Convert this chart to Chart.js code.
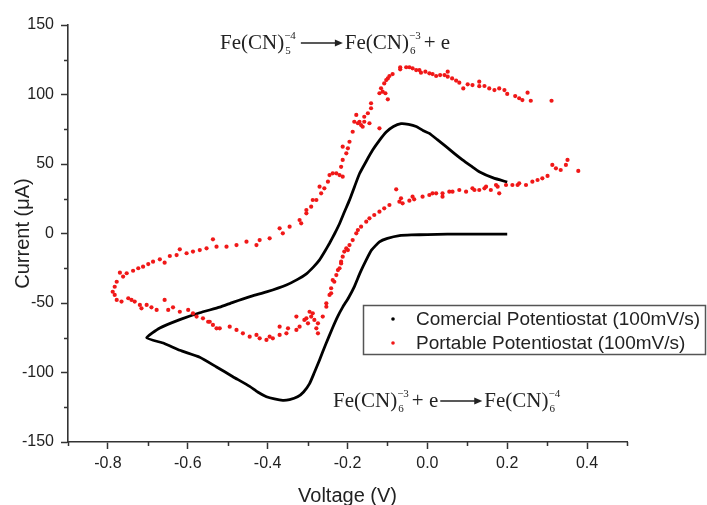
<!DOCTYPE html>
<html>
<head>
<meta charset="utf-8">
<script src="https://cdn.jsdelivr.net/npm/chart.js@4.4.1/dist/chart.umd.min.js"></script>
<style>
  body { margin: 0; background: #fff; }
  #wrap { width: 707px; height: 505px; }
</style>
</head>
<body>
<div id="wrap"><canvas id="cv" width="707" height="505"></canvas></div>
<script>
// tick values
const xMajor = [-0.8, -0.6, -0.4, -0.2, 0.0, 0.2, 0.4];
const xMinor = [-0.9, -0.7, -0.5, -0.3, -0.1, 0.1, 0.3, 0.5];
const yMajor = [-150, -100, -50, 0, 50, 100, 150];
const yMinor = [-125, -75, -25, 25, 75, 125];

const seriesLabels = ['Comercial Potentiostat (100mV/s)', 'Portable Potentiostat (100mV/s)'];

// commercial potentiostat, [voltage V, current uA], in scan order
const commercial = [
  [0.20, -0.5], [0.15, -0.5], [0.10, -0.5], [0.05, -0.5], [0.0, -0.8], [-0.04, -1], [-0.07, -1.5],
  [-0.10, -3.5], [-0.12, -6], [-0.14, -12], [-0.153, -19], [-0.168, -28], [-0.1825, -38],
  [-0.197, -46], [-0.212, -53], [-0.225, -60], [-0.2375, -68], [-0.255, -80], [-0.27, -91],
  [-0.283, -100], [-0.295, -108], [-0.31, -114], [-0.325, -117.5], [-0.345, -119.5], [-0.362, -120],
  [-0.383, -119], [-0.403, -117.4], [-0.425, -114], [-0.445, -110], [-0.487, -103], [-0.528, -96],
  [-0.57, -89], [-0.62, -84], [-0.66, -79], [-0.703, -75],
  [-0.67, -68], [-0.62, -62], [-0.57, -57], [-0.52, -53], [-0.487, -49.5], [-0.44, -45],
  [-0.403, -42], [-0.353, -37], [-0.325, -33], [-0.303, -29], [-0.285, -24], [-0.27, -19],
  [-0.257, -13], [-0.245, -7], [-0.232, 0], [-0.22, 7], [-0.207, 16], [-0.195, 24], [-0.182, 34],
  [-0.17, 43], [-0.153, 52], [-0.137, 60], [-0.12, 67], [-0.103, 73], [-0.085, 77], [-0.066, 79],
  [-0.047, 78.5], [-0.028, 77], [-0.01, 74], [0.005, 72], [0.025, 67.5], [0.047, 62.5],
  [0.068, 57.5], [0.088, 53], [0.11, 48.5], [0.13, 44.5], [0.165, 40], [0.20, 37]
];

// portable potentiostat, [voltage V, current uA]
const portable = [
  [0.311, 95.5], [0.259, 95.5], [0.251, 101.3], [0.238, 96], [0.23, 97.3], [0.22, 98.9], [0.20, 100.4],
  [0.193, 103.2], [0.18, 104.4], [0.168, 103.2], [0.155, 104.4], [0.143, 106.1], [0.13, 109.2],
  [0.13, 106], [0.113, 106.8], [0.101, 107.3], [0.09, 104.4], [0.08, 108.5], [0.072, 110],
  [0.062, 111.6], [0.051, 112.8], [0.051, 116.4], [0.043, 114], [0.032, 114], [0.022, 113.3],
  [0.013, 114.7], [0.005, 115.2], [-0.005, 116.4], [-0.016, 115.7], [-0.02, 117.6], [-0.028, 117.6],
  [-0.037, 118.8], [-0.045, 119.6], [-0.053, 119.6], [-0.068, 118.1], [-0.068, 119.6], [-0.087, 114.7],
  [-0.095, 113.3], [-0.099, 111.6], [-0.103, 110.4], [-0.108, 108], [-0.112, 102], [-0.116, 104.5],
  [-0.12, 100.9], [-0.105, 100.9], [-0.099, 96.5], [-0.141, 93.7], [-0.141, 90.1], [-0.149, 86.5],
  [-0.158, 84], [-0.178, 85.3], [-0.17, 80.4], [-0.166, 78], [-0.174, 79.3], [-0.162, 76.8],
  [-0.183, 80.4], [-0.158, 80.4], [-0.145, 79.3], [-0.12, 75.7], [-0.187, 73.2], [-0.195, 66],
  [-0.199, 61.3], [-0.203, 57.7], [-0.212, 52.9], [-0.216, 48], [-0.212, 62.5], [-0.22, 42],
  [-0.228, 43.3], [-0.237, 43.3], [-0.245, 42], [-0.212, 40.9], [-0.249, 37.3], [-0.258, 32.5],
  [-0.266, 28.9], [-0.27, 33.7], [-0.278, 24.1], [-0.287, 24.1], [-0.291, 19.3], [-0.303, 14.5],
  [-0.303, 16.9], [-0.316, 7.3], [-0.32, 9.7], [-0.345, 4.9], [-0.37, 3.7], [-0.362, 0.1],
  [-0.395, -3.5], [-0.42, -4.7], [-0.428, -8.3], [-0.453, -5.9], [-0.478, -8.3], [-0.503, -9.5],
  [-0.528, -9.5], [-0.537, -4.2], [-0.553, -10.7], [-0.57, -11.9], [-0.587, -13], [-0.603, -14.2],
  [-0.62, -11.4], [-0.628, -15.5], [-0.645, -16.2], [-0.658, -21], [-0.67, -18.6], [-0.687, -20.3],
  [-0.699, -22], [-0.712, -23.9], [-0.724, -25], [-0.737, -26.8], [-0.753, -28.6], [-0.762, -31],
  [-0.77, -28.2], [-0.778, -34.7], [-0.783, -38.3], [-0.788, -41.9], [-0.783, -44.2], [-0.778, -47.8],
  [-0.766, -49], [-0.749, -46.6], [-0.741, -47.8], [-0.733, -49], [-0.72, -51.4], [-0.716, -53.8],
  [-0.703, -51.4], [-0.691, -53.1], [-0.678, -55], [-0.658, -47.8], [-0.649, -55], [-0.637, -53.1],
  [-0.62, -56.3], [-0.599, -55], [-0.587, -57.4], [-0.578, -59.8], [-0.562, -61], [-0.549, -63.5],
  [-0.537, -65.8], [-0.528, -68.2], [-0.545, -63.5], [-0.52, -68.2], [-0.495, -67], [-0.478, -69.4],
  [-0.462, -71.8], [-0.445, -74.2], [-0.428, -73], [-0.42, -75.4], [-0.403, -76.6], [-0.395, -74.2],
  [-0.387, -75.4], [-0.37, -73], [-0.37, -67], [-0.353, -71.8], [-0.349, -68.2], [-0.328, -69.4],
  [-0.328, -59.8], [-0.32, -67], [-0.308, -62.2], [-0.291, -59.8], [-0.287, -57.4], [-0.299, -64.6],
  [-0.283, -62.2], [-0.278, -68.2], [-0.274, -64.6], [-0.303, -61], [-0.295, -56.3], [-0.274, -71.8],
  [-0.262, -59.8], [-0.253, -50.2], [-0.253, -52.7], [-0.245, -44.2], [-0.241, -39.4], [-0.241, -43],
  [-0.233, -34.7], [-0.237, -33.5], [-0.228, -29.9], [-0.224, -26.3], [-0.22, -25], [-0.216, -20.3],
  [-0.216, -21.5], [-0.212, -16.7], [-0.208, -13], [-0.203, -10.7], [-0.199, -11.9], [-0.195, -8.3],
  [-0.187, -4.7], [-0.178, 0.1], [-0.174, 2.5], [-0.166, 4.9], [-0.153, 8.5], [-0.145, 10.9],
  [-0.133, 13.3], [-0.12, 15.7], [-0.108, 18.1], [-0.095, 20.5], [-0.078, 31.8], [-0.07, 22.9],
  [-0.062, 21.7], [-0.066, 25.3], [-0.045, 23.6], [-0.033, 24.6], [-0.037, 26.5], [-0.012, 26.5],
  [0.005, 27.7], [0.013, 28.9], [0.022, 28.9], [0.038, 28.9], [0.038, 26.5], [0.055, 30.1],
  [0.063, 30.1], [0.08, 31.3], [0.097, 30.1], [0.113, 32.5], [0.118, 31.3], [0.13, 31.3],
  [0.143, 32.5], [0.147, 33.7], [0.159, 31.3], [0.172, 34.9], [0.18, 28.9], [0.176, 33.7],
  [0.197, 34.9], [0.213, 34.9], [0.226, 34.9], [0.23, 36.1], [0.247, 34.9], [0.263, 37.3],
  [0.276, 38.5], [0.288, 39.7], [0.301, 41.4], [0.313, 49.3], [0.322, 46.9], [0.334, 45.7],
  [0.347, 49.3], [0.351, 52.9], [0.378, 45]
];

const SANS = '"Liberation Sans", Arial, sans-serif';
const SERIF = '"Liberation Serif", "Times New Roman", serif';

// draws Fe(CN) style formulas with stacked sub/superscripts
function drawFormula(ctx, x, y, parts) {
  ctx.fillStyle = '#222';
  ctx.strokeStyle = '#222';
  ctx.textBaseline = 'alphabetic';
  ctx.textAlign = 'left';
  parts.forEach(p => {
    if (p.arrow) {
      const y0 = y - 6;
      ctx.lineWidth = 1.3;
      ctx.beginPath();
      ctx.moveTo(x + 2, y0);
      ctx.lineTo(x + p.arrow - 3, y0);
      ctx.stroke();
      ctx.beginPath();
      ctx.moveTo(x + p.arrow, y0);
      ctx.lineTo(x + p.arrow - 8, y0 - 3.5);
      ctx.lineTo(x + p.arrow - 8, y0 + 3.5);
      ctx.closePath();
      ctx.fill();
      x += p.arrow + 2;
    } else if (p.sub !== undefined) {
      ctx.font = '11px ' + SERIF;
      ctx.fillText(p.sub, x + 1, y + 5);
      ctx.fillText(p.sup, x, y - 10);
      x += Math.max(ctx.measureText(p.sub).width, ctx.measureText(p.sup).width) + 3;
    } else {
      ctx.font = '21px ' + SERIF;
      ctx.fillText(p.t, x, y);
      x += ctx.measureText(p.t).width;
    }
  });
}

const extras = {
  id: 'extras',
  afterDraw(chart) {
    const ctx = chart.ctx;
    const xs = chart.scales.x, ys = chart.scales.y;
    ctx.save();
    // minor ticks
    ctx.strokeStyle = '#333';
    ctx.lineWidth = 1.5;
    ctx.beginPath();
    xMinor.forEach(v => {
      const px = Math.round(xs.getPixelForValue(v)) + 0.5;
      ctx.moveTo(px, xs.top);
      ctx.lineTo(px, xs.top + 4);
    });
    yMinor.forEach(v => {
      const py = Math.round(ys.getPixelForValue(v)) + 0.5;
      ctx.moveTo(ys.right, py);
      ctx.lineTo(ys.right - 4, py);
    });
    ctx.stroke();

    // legend box
    ctx.strokeStyle = '#555';
    ctx.lineWidth = 1.5;
    ctx.strokeRect(363.5, 305.5, 342, 49);
    ctx.font = '19px ' + SANS;
    ctx.textBaseline = 'middle';
    ctx.textAlign = 'left';
    chart.data.datasets.forEach((ds, i) => {
      const cy = 319 + i * 24;
      ctx.fillStyle = ds.legendColor;
      ctx.beginPath();
      ctx.arc(393, cy, 1.8, 0, Math.PI * 2);
      ctx.fill();
      ctx.fillStyle = '#222';
      ctx.fillText(ds.label, 416, cy + 1);
    });

    // reaction labels
    drawFormula(ctx, 220, 49, [
      { t: 'Fe(CN)' }, { sub: '5', sup: '\u22124' }, { arrow: 44 },
      { t: 'Fe(CN)' }, { sub: '6', sup: '\u22123' }, { t: '+ e' }
    ]);
    drawFormula(ctx, 333, 407, [
      { t: 'Fe(CN)' }, { sub: '6', sup: '\u22123' }, { t: '+ e' }, { arrow: 44 },
      { t: 'Fe(CN)' }, { sub: '6', sup: '\u22124' }
    ]);
    ctx.restore();
  }
};

new Chart(document.getElementById('cv'), {
  type: 'scatter',
  data: {
    datasets: [
      {
        label: seriesLabels[0],
        data: commercial.map(p => ({ x: p[0], y: p[1] })),
        showLine: true,
        borderColor: '#000',
        borderWidth: 2.8,
        tension: 0.15,
        pointRadius: 0,
        legendColor: '#000',
        order: 2
      },
      {
        label: seriesLabels[1],
        data: portable.map(p => ({ x: p[0], y: p[1] })),
        showLine: false,
        pointRadius: 2.1,
        pointBorderWidth: 0,
        pointBackgroundColor: '#f01818',
        legendColor: '#f01818',
        order: 1
      }
    ]
  },
  options: {
    responsive: false,
    animation: false,
    layout: { padding: { left: 0, right: 80, top: 25, bottom: 0 } },
    plugins: { legend: { display: false }, tooltip: { enabled: false } },
    scales: {
      x: {
        type: 'linear',
        min: -0.9,
        max: 0.5,
        afterBuildTicks: s => { s.ticks = xMajor.map(v => ({ value: v })); },
        afterFit: s => { s.height = 63; },
        border: { display: true, color: '#333', width: 1.6 },
        grid: { drawOnChartArea: false, drawTicks: true, tickLength: 7, tickColor: '#333', tickWidth: 1.5 },
        ticks: {
          maxRotation: 0,
          padding: 5,
          color: '#222',
          font: { family: SANS, size: 16 },
          callback: v => Number(v).toFixed(1)
        },
        title: {
          display: true,
          text: 'Voltage (V)',
          color: '#222',
          font: { family: SANS, size: 20 },
          padding: { top: 0, bottom: -3 }
        }
      },
      y: {
        type: 'linear',
        min: -150,
        max: 150,
        afterBuildTicks: s => { s.ticks = yMajor.map(v => ({ value: v })); },
        afterFit: s => { s.width = 68; },
        border: { display: true, color: '#333', width: 1.6 },
        grid: { drawOnChartArea: false, drawTicks: true, tickLength: 7, tickColor: '#333', tickWidth: 1.5 },
        ticks: {
          padding: 7,
          color: '#222',
          font: { family: SANS, size: 16 },
          callback: v => String(v)
        },
        title: {
          display: true,
          text: 'Current (\u03bcA)',
          color: '#222',
          font: { family: SANS, size: 20 },
          padding: { top: 11, bottom: 0 }
        }
      }
    }
  },
  plugins: [extras]
});
</script>
</body>
</html>
